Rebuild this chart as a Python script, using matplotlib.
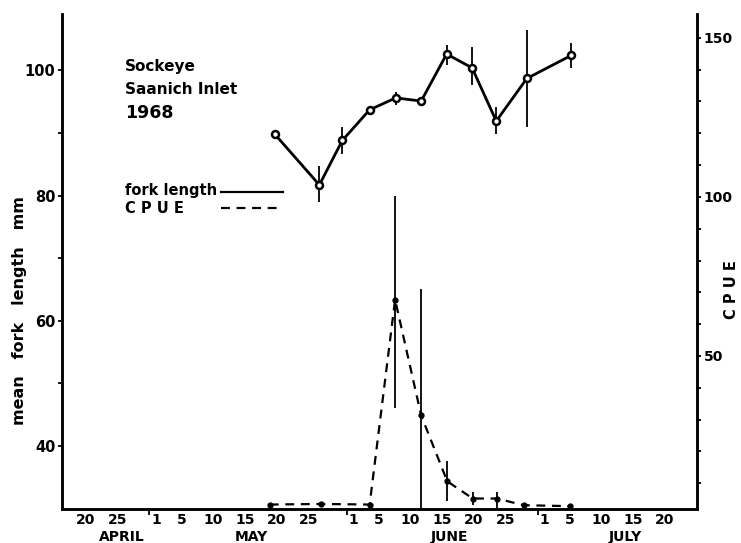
import matplotlib
matplotlib.use("Agg")
import matplotlib.pyplot as plt
from matplotlib.ticker import FixedLocator, MultipleLocator
import numpy as np

# day number counted from April 1 = 1  (May 1 = 31, June 1 = 62, July 1 = 92)
fl_day = [49.7, 56.7, 60.3, 64.6, 68.7, 72.7, 76.7, 80.7, 84.5, 89.3, 96.3]
fl_mean = [89.8, 81.7, 88.8, 93.7, 95.6, 95.1, 102.6, 100.4, 91.9, 98.7, 102.4]
fl_lo = [89.8, 78.9, 86.6, 93.7, 94.5, 95.1, 100.8, 97.6, 89.8, 90.9, 100.4]
fl_hi = [89.8, 84.8, 90.9, 93.7, 96.6, 95.1, 104.0, 103.8, 94.1, 106.4, 104.3]

cp_day = [48.9, 56.9, 64.6, 68.6, 72.7, 76.8, 80.8, 84.6, 88.8, 96.1]
cpue = [3.3, 3.5, 3.3, 67.7, 31.3, 10.6, 5.2, 5.2, 3.1, 2.8]
cp_lo = [3.3, 3.5, 3.3, 33.8, 2.0, 4.5, 3.1, 2.2, 3.1, 2.8]
cp_hi = [3.3, 3.5, 3.3, 100.3, 71.2, 17.0, 7.3, 7.3, 3.1, 2.8]

tick_days = [20, 25, 31, 35, 40, 45, 50, 55, 62, 66, 71, 76, 81, 86, 92, 96, 101, 106, 111]
tick_text = ["20", "25", "1", "5", "10", "15", "20", "25", "1", "5", "10", "15", "20", "25",
             "1", "5", "10", "15", "20"]
month_edges = [30, 31, 61, 62, 91, 92]
months = ["APRIL", "MAY", "JUNE", "JULY"]
month_pos = [25.7, 46.0, 77.1, 104.8]

plt.rcParams['font.family'] = ['DejaVu Sans']
plt.rcParams['font.weight'] = 'bold'

fig = plt.figure(figsize=(7.41, 5.43), dpi=100)
ax = fig.add_axes([62.3 / 741, 1 - 508.7 / 543, (696.7 - 62.3) / 741, (508.7 - 14) / 543])
ax2 = ax.twinx()

# fork length (left axis)
fl_mean = np.array(fl_mean)
ax.vlines(fl_day, fl_lo, fl_hi, color="black", lw=1.3)
ax.plot(fl_day, fl_mean, "-", color="black", lw=2, marker="o", ms=5,
        mfc="white", mec="black", mew=1.8, zorder=3)

# CPUE (right axis)
ax2.vlines(cp_day, cp_lo, cp_hi, color="black", lw=1.3)
ax2.plot(cp_day, cpue, color="black", lw=1.6, ls=(0, (4, 3)), marker="o", ms=3.5,
         mfc="black", mec="black", zorder=3)

ax.set_xlim(16.3, 116.0)
ax.set_ylim(30, 109)
ax2.set_ylim(2.0, 157.5)

for a in (ax, ax2):
    a.spines["top"].set_visible(False)
    for s in ("left", "right", "bottom"):
        a.spines[s].set_linewidth(1.8)

ax.xaxis.set_major_locator(FixedLocator(tick_days))
ax.set_xticklabels(tick_text, fontsize=10, fontweight="bold")
ax.xaxis.set_minor_locator(FixedLocator(month_edges))
ax.tick_params(axis="x", which="major", length=0, pad=3)
ax.tick_params(axis="x", which="minor", length=4, width=1.3, direction="out")

ax.yaxis.set_major_locator(FixedLocator([40, 60, 80, 100]))
ax.yaxis.set_minor_locator(FixedLocator([50, 70, 90]))
ax.tick_params(axis="y", which="both", length=3, width=1.3, labelsize=10.5, pad=2)
for lab in ax.get_yticklabels():
    lab.set_fontweight("bold")

ax2.yaxis.set_major_locator(FixedLocator([50, 100, 150]))
ax2.yaxis.set_minor_locator(MultipleLocator(10))
ax2.tick_params(axis="y", which="both", length=3, width=1.3, labelsize=10, pad=2)
for lab in ax2.get_yticklabels():
    lab.set_fontweight("bold")

for m, p in zip(months, month_pos):
    ax.text(p, -0.057, m, transform=ax.get_xaxis_transform(), ha="center", va="center",
            fontsize=10, fontweight="bold")

ax.set_ylabel("mean   fork   length   mm", fontsize=11.5, fontweight="bold")
ax.yaxis.set_label_coords(-0.055, 0.40)
ax2.set_ylabel("C P U E", fontsize=10.5, fontweight="bold")
ax2.yaxis.set_label_coords(1.043, 0.442)

# annotation text and hand-drawn style legend
fig.text(125 / 741, 1 - 66 / 543, "Sockeye", fontsize=11, fontweight="bold", va="center")
fig.text(125 / 741, 1 - 90 / 543, "Saanich Inlet", fontsize=11, fontweight="bold", va="center")
fig.text(125 / 741, 1 - 112.5 / 543, "1968", fontsize=12.5, fontweight="bold", va="center")
fig.text(125 / 741, 1 - 190 / 543, "fork length", fontsize=10.5, fontweight="bold", va="center")
fig.text(125 / 741, 1 - 208.5 / 543, "C P U E", fontsize=10.5, fontweight="bold", va="center")
fig.add_artist(plt.Line2D([221 / 741, 283 / 741], [1 - 191.7 / 543] * 2, color="black", lw=1.6))
fig.add_artist(plt.Line2D([221 / 741, 283 / 741], [1 - 208 / 543] * 2, color="black", lw=1.6,
                          ls=(0, (4, 3))))

fig.savefig("out.png", dpi=100)
